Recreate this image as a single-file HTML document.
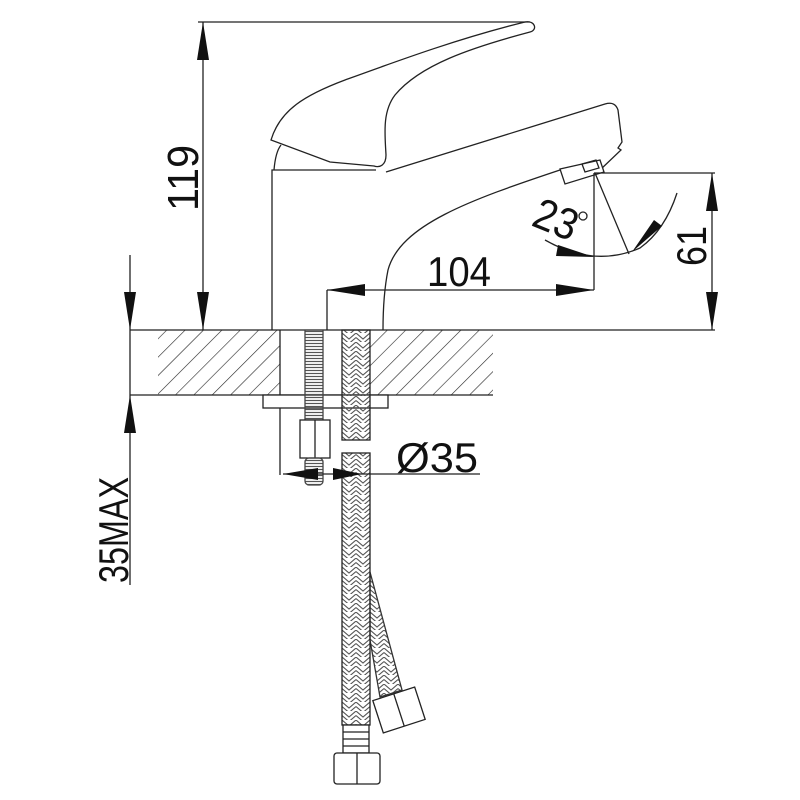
<!DOCTYPE html>
<html><head><meta charset="utf-8"><style>
html,body{margin:0;padding:0;background:#fff}
svg{display:block}
text{font-family:"Liberation Sans",sans-serif;fill:#111}
</style></head><body>
<svg width="800" height="800" viewBox="0 0 800 800" xmlns="http://www.w3.org/2000/svg">
<defs>
<pattern id="hatch" width="13" height="13" patternUnits="userSpaceOnUse" patternTransform="rotate(45)">
<line x1="0" y1="0" x2="0" y2="13" stroke="#222" stroke-width="1.2"/>
</pattern>
<pattern id="braid" x="342" y="0" width="14" height="9" patternUnits="userSpaceOnUse">
<polyline points="0,0 7,6 14,0" fill="none" stroke="#555" stroke-width="1.1"/>
<polyline points="0,4.5 7,10.5 14,4.5" fill="none" stroke="#555" stroke-width="1.1"/>
</pattern>
<pattern id="thread" width="4" height="3" patternUnits="userSpaceOnUse">
<line x1="0" y1="1.5" x2="4" y2="1.5" stroke="#555" stroke-width="1.2"/>
</pattern>
</defs>
<g fill="none" stroke="#222" stroke-width="1.3">
<rect x="158" y="330" width="122" height="65" fill="url(#hatch)" stroke="none"/>
<rect x="370" y="330" width="123" height="65" fill="url(#hatch)" stroke="none"/>
<line x1="130" y1="330" x2="715" y2="330"/>
<line x1="130" y1="395" x2="493" y2="395"/>
<line x1="280" y1="330" x2="280" y2="475"/>
<rect x="263" y="395" width="125" height="13" fill="#fff"/>
<rect x="305" y="330" width="18" height="90" fill="url(#thread)" stroke="#444"/>
<rect x="300" y="420" width="30" height="38" fill="#fff"/>
<line x1="315" y1="420" x2="315" y2="458"/>
<rect x="305" y="458" width="18" height="27" rx="4" fill="url(#thread)" stroke="#444"/>
<path d="M370,572 L402,690 L380,697 L370,640 Z" fill="url(#braid)" stroke="#333"/>
<g transform="rotate(-18 399 710)"><rect x="377" y="693" width="44" height="34" fill="#fff"/><line x1="399" y1="693" x2="399" y2="727"/></g>
<rect x="342" y="330" width="28" height="110" fill="url(#braid)"/>
<rect x="342" y="453" width="28" height="272" fill="url(#braid)"/>
<rect x="343" y="725" width="26" height="28" fill="#fff"/>
<line x1="343" y1="732" x2="369" y2="732"/><line x1="343" y1="739" x2="369" y2="739"/><line x1="343" y1="746" x2="369" y2="746"/>
<rect x="334" y="753" width="46" height="31" rx="3" fill="#fff"/>
<line x1="357" y1="753" x2="357" y2="784"/>
<path d="M272,330 L272,170 L376,170"/>
<path d="M274,170 C275,158 277,150 281,145"/>
<path d="M271,140 C280,110 305,95 345,80 C400,60 460,38 525,22 C535,20 538,30 530,32 C470,48 420,65 395,95 C382,112 385,135 386,155 C386,165 380,168 374,166 L330,162 L271,140 Z" fill="#fff"/>
<path d="M386,172 L605,104 C612,102 616,104 618,110 L622,142 L618,148 L621,150 L600,170"/>
<path d="M560,169 L600,160 L604,172 L565,184 Z" fill="#fff"/>
<path d="M582,164 L596,160 L599,168 L585,172 Z"/>
<path d="M560,170 C470,200 400,225 388,270 C384,290 383,310 383,330"/>
<line x1="198" y1="22" x2="530" y2="22"/>
<line x1="203" y1="22" x2="203" y2="330"/>
<line x1="327" y1="290" x2="594" y2="290"/>
<line x1="327" y1="290" x2="327" y2="330"/>
<line x1="594" y1="173" x2="594" y2="290"/>
<line x1="594" y1="173" x2="715" y2="173"/>
<line x1="712" y1="173" x2="712" y2="330"/>
<line x1="595" y1="173" x2="629" y2="254"/>
<path d="M545,240 Q594,268 640,248 Q665,230 677,193"/>
<line x1="130" y1="255" x2="130" y2="585"/>
<line x1="283" y1="474" x2="480" y2="474"/>
</g>
<g fill="#111">
<polygon points="203,22 197,60 209,60"/>
<polygon points="203,330 197,292 209,292"/>
<polygon points="327,290 365,284 365,296"/>
<polygon points="594,290 556,284 556,296"/>
<polygon points="712,173 706,211 718,211"/>
<polygon points="712,330 706,292 718,292"/>
<polygon points="130,330 124,292 136,292"/>
<polygon points="130,395 124,433 136,433"/>
<polygon points="283,474 318,468 318,480"/>
<polygon points="362,474 333,468 333,480"/>
<polygon points="594,257 558,245 556,256"/>
<polygon points="632,252 662,226 654,220"/>
</g>
<text x="0" y="0" font-size="44" transform="translate(198,178) rotate(-90)" text-anchor="middle" textLength="66" lengthAdjust="spacingAndGlyphs">119</text>
<text x="0" y="0" font-size="42" transform="translate(706,246) rotate(-90)" text-anchor="middle" textLength="40" lengthAdjust="spacingAndGlyphs">61</text>
<text x="0" y="0" font-size="42" transform="translate(128,530) rotate(-90)" text-anchor="middle" textLength="106" lengthAdjust="spacingAndGlyphs">35MAX</text>
<text x="427" y="286" font-size="42" textLength="64" lengthAdjust="spacingAndGlyphs">104</text>
<text x="396" y="472" font-size="42" textLength="82" lengthAdjust="spacingAndGlyphs">Ø35</text>
<text x="0" y="0" font-size="44" transform="translate(530,225) rotate(22)" textLength="44" lengthAdjust="spacingAndGlyphs">23</text>
<circle cx="583" cy="216" r="4" fill="none" stroke="#222" stroke-width="1.3"/>
</svg>
</body></html>
